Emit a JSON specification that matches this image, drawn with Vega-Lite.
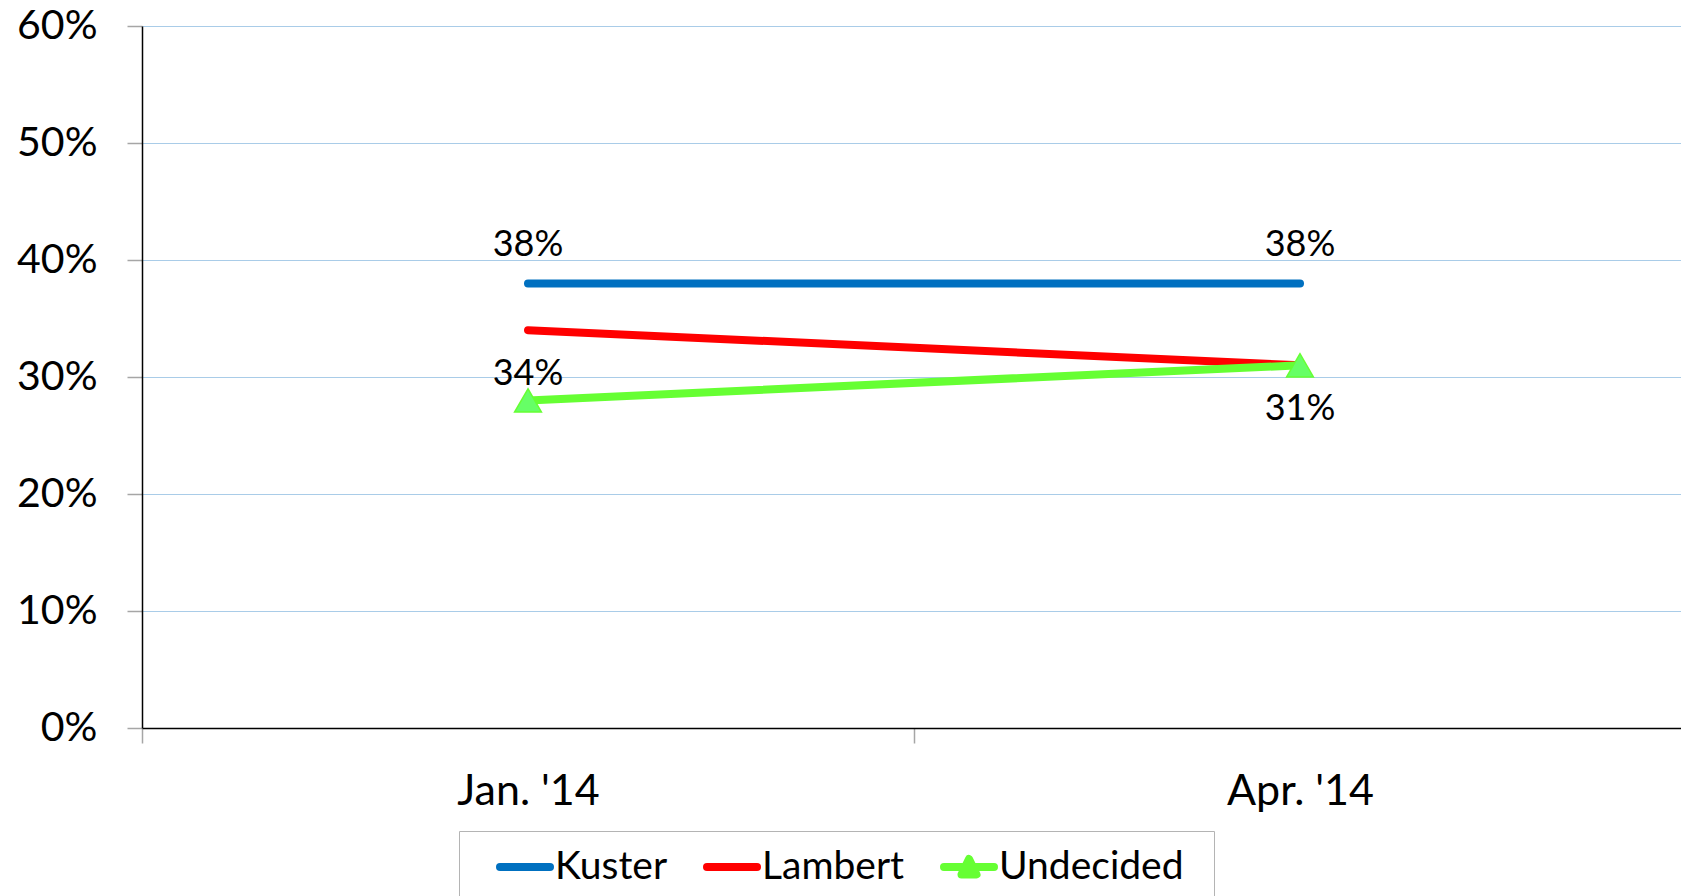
{
  "$schema": "https://vega.github.io/schema/vega-lite/v6.json",
  "width": 1539,
  "height": 702,
  "autosize": {"type": "none"},
  "padding": {"left": 142, "top": 26, "right": 0, "bottom": 168},
  "background": "white",
  "config": {"view": {"stroke": null}, "font": "Lato"},
  "data": {
    "values": [
      {"period": "Jan. '14", "series": "Kuster", "share": 0.38},
      {"period": "Apr. '14", "series": "Kuster", "share": 0.38},
      {"period": "Jan. '14", "series": "Lambert", "share": 0.34},
      {"period": "Apr. '14", "series": "Lambert", "share": 0.31},
      {"period": "Jan. '14", "series": "Undecided", "share": 0.28},
      {"period": "Apr. '14", "series": "Undecided", "share": 0.31}
    ]
  },
  "encoding": {
    "x": {
      "field": "period",
      "type": "nominal",
      "sort": ["Jan. '14", "Apr. '14"],
      "scale": {"type": "band", "range": [0, 1544], "paddingInner": 0, "paddingOuter": 0},
      "axis": {
        "title": null,
        "labelAngle": 0,
        "labelFont": "Lato",
        "labelFontSize": 43,
        "labelColor": "black",
        "labelPadding": 27,
        "tickBand": "extent",
        "tickSize": 15,
        "tickColor": "#A6A6A6",
        "tickWidth": 1.5,
        "domainColor": "black",
        "domainWidth": 1.5,
        "grid": false
      }
    },
    "y": {
      "field": "share",
      "type": "quantitative",
      "scale": {"domain": [0, 0.6], "nice": false},
      "axis": {
        "title": null,
        "values": [0, 0.1, 0.2, 0.3, 0.4, 0.5, 0.6],
        "format": ".0%",
        "labelFont": "Lato",
        "labelFontSize": 41,
        "labelColor": "black",
        "labelPadding": 30,
        "tickSize": 15,
        "tickColor": "#A6A6A6",
        "tickWidth": 1.5,
        "domainColor": "black",
        "domainWidth": 1.5,
        "grid": true,
        "gridColor": "#A9CCE8",
        "gridWidth": 1
      }
    }
  },
  "layer": [
    {
      "mark": {"type": "line", "strokeCap": "round", "strokeJoin": "round"},
      "encoding": {
        "color": {
          "field": "series",
          "type": "nominal",
          "scale": {"domain": ["Kuster", "Lambert", "Undecided"], "range": ["#0070C0", "#FF0000", "#66FF33"]},
          "legend": {
            "orient": "none",
            "legendX": 317,
            "legendY": 805,
            "direction": "horizontal",
            "title": " ",
            "titleOrient": "right",
            "titleFontSize": 100,
            "titlePadding": 23,
            "labelFont": "Lato",
            "labelFontSize": 39,
            "labelColor": "black",
            "labelLimit": 500,
            "labelOffset": 1,
            "symbolSize": 2500,
            "symbolStrokeWidth": 8,
            "symbolOffset": 30,
            "strokeColor": "#B4B4B4",
            "padding": 7,
            "columnPadding": 5,
            "encode": {
              "symbols": {
                "update": {
                  "shape": {"signal": "datum.value === 'Undecided' ? 'M-1,0L1,0M-0.3,0.3L0,-0.32L0.3,0.3Z' : 'stroke'"},
                  "fill": {"signal": "datum.value === 'Undecided' ? '#66FF66' : 'transparent'"},
                  "strokeWidth": {"signal": "datum.value === 'Undecided' ? 10 : 8"},
                  "strokeCap": {"value": "round"},
                  "strokeJoin": {"value": "round"},
                  "opacity": {"value": 1}
                }
              }
            }
          }
        },
        "strokeWidth": {
          "field": "series",
          "type": "nominal",
          "scale": {"domain": ["Kuster", "Lambert", "Undecided"], "range": [8, 8, 10]},
          "legend": null
        }
      }
    },
    {
      "transform": [{"filter": "datum.series === 'Undecided'"}],
      "mark": {"type": "point", "shape": "triangle-up", "filled": true, "fill": "#66FF66", "stroke": "#66FF33", "strokeWidth": 1.5, "size": 720, "opacity": 1}
    },
    {
      "transform": [{"filter": "datum.series === 'Kuster'"}],
      "mark": {"type": "text", "dy": -38, "font": "Lato", "fontSize": 36, "color": "black"},
      "encoding": {"text": {"field": "share", "type": "quantitative", "format": ".0%"}}
    },
    {
      "transform": [{"filter": "datum.series === 'Lambert'"}],
      "mark": {"type": "text", "dy": 44, "font": "Lato", "fontSize": 36, "color": "black"},
      "encoding": {"text": {"field": "share", "type": "quantitative", "format": ".0%"}}
    }
  ]
}
